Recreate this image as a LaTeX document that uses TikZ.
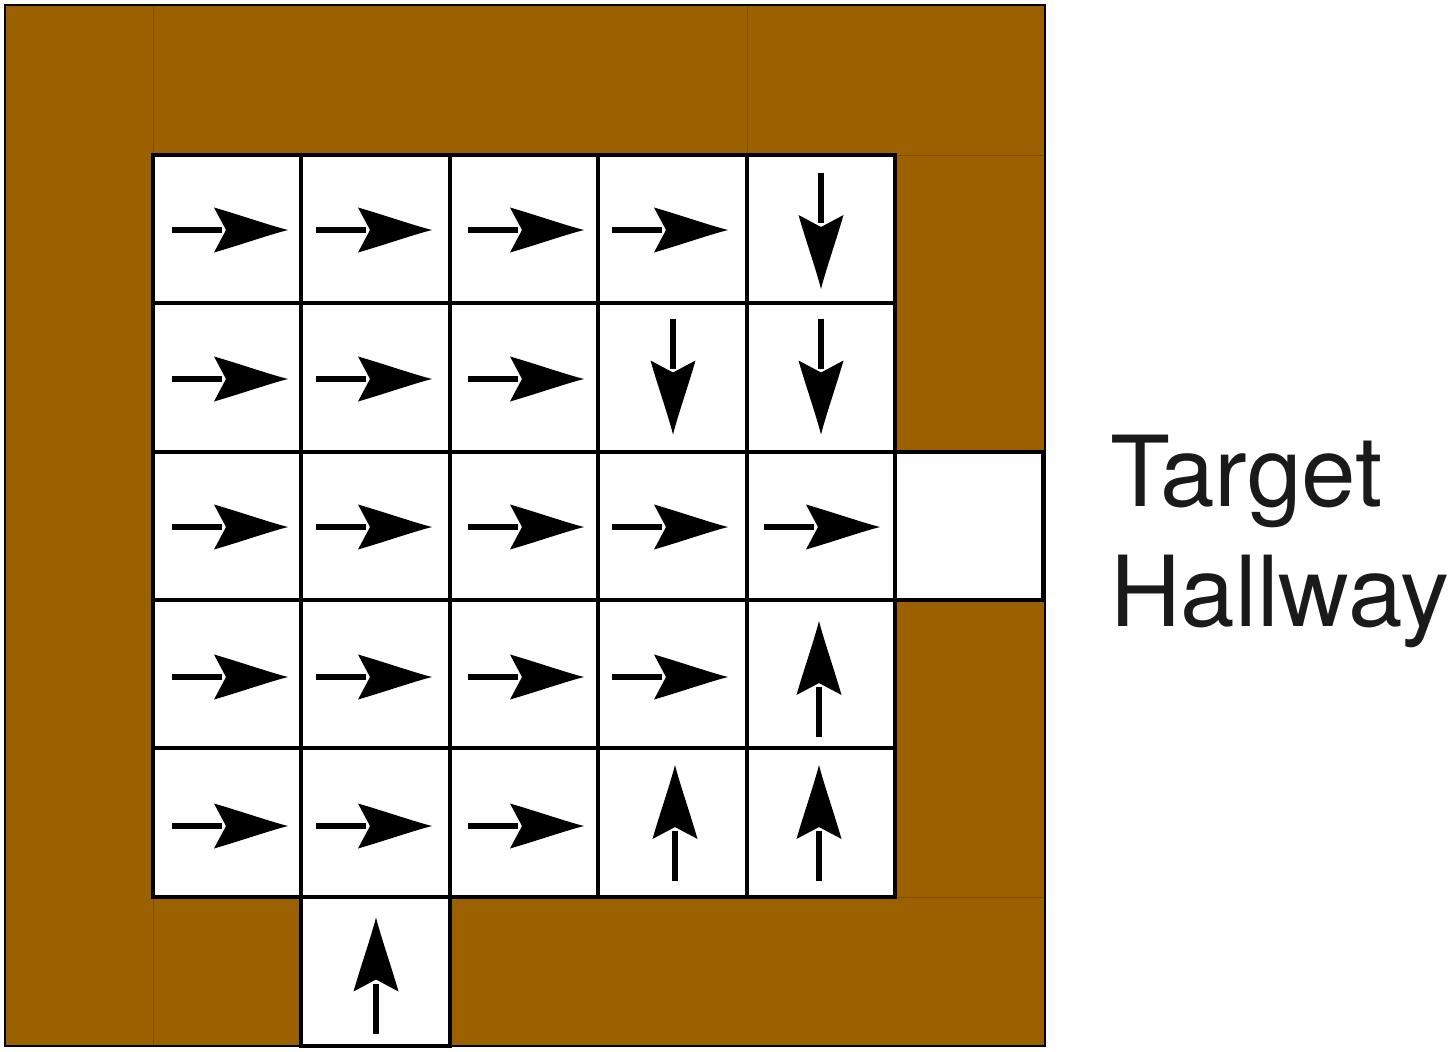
\documentclass[tikz,border=0pt]{standalone}
\usepackage{fontspec}
\setmainfont{TeX Gyre Heros}
\definecolor{wall}{RGB}{155,97,0}
\definecolor{seam}{RGB}{128,78,0}
\definecolor{txt}{RGB}{26,26,26}
\begin{document}
\begin{tikzpicture}[x=1pt,y=-1pt,
  wallblock/.style={fill=wall,draw=seam,line width=1pt},
  floorcell/.style={fill=white,draw=black,line width=3.2pt},
  dart/.pic={
    \draw[black,line width=5.5pt] (-58,0) -- (-8,0);
    \fill[black] (58,0) .. controls (40,4.5) and (10,15) .. (-16,22.5)
      -- (-4,0) -- (-16,-22.5) .. controls (10,-15) and (40,-4.5) .. (58,0) -- cycle;
  },
  lbl/.style={font=\fontsize{98}{120}\selectfont,text=txt,anchor=base west,inner sep=0pt}]
\useasboundingbox (0,0) rectangle (1454,1052);
% wall blocks
\draw[wallblock] (5,5) rectangle (153,1046);
\draw[wallblock] (153,5) rectangle (747,155);
\draw[wallblock] (747,5) rectangle (1045,155);
\draw[wallblock] (895,155) rectangle (1045,452);
\draw[wallblock] (895,600) rectangle (1045,897);
\draw[wallblock] (153,897) rectangle (301,1046);
\draw[wallblock] (450,897) rectangle (1045,1046);
\draw[black,line width=1.5pt] (5,5) rectangle (1045,1046);
% floor cells
\foreach \xa/\xb in {153/301,301/450,450/598,598/747,747/895}
  \foreach \ya/\yb in {155/303,303/452,452/600,600/748,748/897}
    \draw[floorcell] (\xa,\ya) rectangle (\xb,\yb);
\draw[floorcell] (895,452) rectangle (1043,600);
\draw[floorcell] (301,897) rectangle (450,1046);
% right arrows
\foreach \y/\list in {230/{230,374,526,670}, 379/{230,374,526}, 527/{230,374,526,670,822}, 677/{230,374,526,670}, 826/{230,374,526}}
  \foreach \x in \list
    \pic at (\x,\y) {dart};
% down arrows
\pic[rotate=-90] at (821,231) {dart};
\pic[rotate=-90] at (673,376.5) {dart};
\pic[rotate=-90] at (821,376.5) {dart};
% up arrows
\pic[rotate=90] at (819,679) {dart};
\pic[rotate=90] at (675,823) {dart};
\pic[rotate=90] at (819,823) {dart};
\pic[rotate=90] at (376,975.5) {dart};
% label
\node[lbl] (t1) at (1110,506) {Target};
\node[lbl] (t2) at (1110,626) {Hallway};
\end{tikzpicture}
\end{document}
